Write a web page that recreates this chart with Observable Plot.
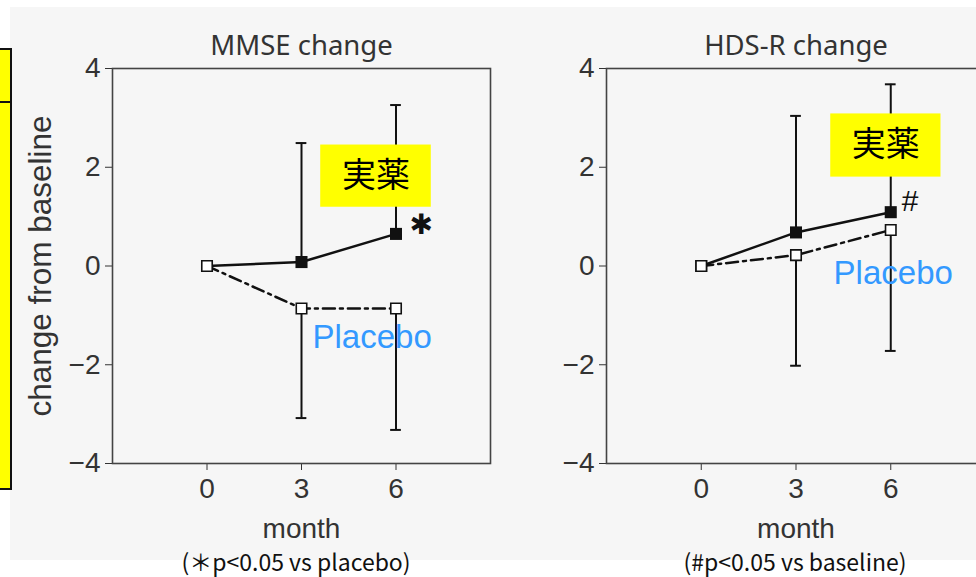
<!DOCTYPE html>
<html>
<head>
<meta charset="utf-8">
<script src="https://cdn.jsdelivr.net/npm/d3@7"></script>
<script src="https://cdn.jsdelivr.net/npm/@observablehq/plot@0.6"></script>
<style>
  html, body { margin: 0; padding: 0; background: #fff; overflow: hidden; }
  #root { position: relative; width: 976px; height: 577px; overflow: hidden; background: #fff; }
  .abs { position: absolute; }
  .abs svg { max-width: none !important; display: block; }
  .foot { position: absolute; top: 550px; font-family: "Noto Sans CJK JP", sans-serif; font-size: 23px; line-height: 23px; color: #111; white-space: nowrap; transform: translateX(-50%); }
</style>
</head>
<body>
<div id="root">
  <div class="abs" style="left:10px;top:7px;width:966px;height:553px;background:#f6f6f6;"></div>
  <div class="abs" style="left:-4px;top:48px;width:12px;height:438px;background:#ffff00;border:2px solid #111;"></div>
  <div class="abs" style="left:-4px;top:101px;width:14px;height:0;border-top:2px solid #111;"></div>
  <div id="left" class="abs" style="left:0;top:0;width:540px;"></div>
  <div id="right" class="abs" style="left:540px;top:0;width:445px;"></div>
  <div class="foot" style="left:296px;">(＊p&lt;0.05 vs placebo)</div>
  <div class="foot" style="left:795px;">(#p&lt;0.05 vs baseline)</div>
</div>
<script>
// ---- data ----
const months = [0, 3, 6];
const xTicks = [0, 3, 6];
const yTicks = [-4, -2, 0, 2, 4];

const mmseDrug      = [0, 0.08, 0.65];
const mmseDrugSD    = [0, 2.41, 2.61];
const mmsePlacebo   = [0, -0.86, -0.86];
const mmsePlaceboSD = [0, 2.22, 2.46];

const hdsDrug       = [0, 0.68, 1.09];
const hdsDrugSD     = [0, 2.36, 2.59];
const hdsPlacebo    = [0, 0.22, 0.73];
const hdsPlaceboSD  = [0, 2.24, 2.45];

const drugLabel = "実薬";
const placeboLabel = "Placebo";

function panel(o) {
  const rows = months.map((m, i) => ({
    month: m,
    drug: o.drug[i], drugHi: o.drug[i] + o.drugSD[i],
    placebo: o.placebo[i], placeboLo: o.placebo[i] - o.placeboSD[i],
    hasBar: o.drugSD[i] > 0
  }));
  const bars = rows.filter(d => d.hasBar);
  const ink = "#111";
  const marks = [
    Plot.frame({stroke: "#444", strokeWidth: 1.6}),
    Plot.text([o.title], {frameAnchor: "top", x: () => 3, dy: -14, lineAnchor: "bottom",
      fontFamily: "Noto Sans", fontSize: 27.5, fill: "#333"}),
    Plot.text(["month"], {frameAnchor: "bottom", x: () => 3, dy: 74, lineAnchor: "bottom",
      fontFamily: "Liberation Sans", fontSize: 28, fill: "#333"}),
    // error bars
    Plot.ruleX(bars, {x: "month", y1: "drug", y2: "drugHi", stroke: ink, strokeWidth: 2}),
    Plot.ruleY(bars, {y: "drugHi", x1: d => d.month - 0.17, x2: d => d.month + 0.17, stroke: ink, strokeWidth: 2}),
    Plot.ruleX(bars, {x: "month", y1: "placebo", y2: "placeboLo", stroke: ink, strokeWidth: 2}),
    Plot.ruleY(bars, {y: "placeboLo", x1: d => d.month - 0.17, x2: d => d.month + 0.17, stroke: ink, strokeWidth: 2}),
    // lines
    Plot.line(rows, {x: "month", y: "drug", stroke: ink, strokeWidth: 2.5}),
    Plot.line(rows, {x: "month", y: "placebo", stroke: ink, strokeWidth: 2.5, strokeDasharray: "12,5,3,5"}),
    // annotations
    Plot.rect([o.box], {x1: "x1", x2: "x2", y1: "y1", y2: "y2", fill: "#ffff00"}),
    Plot.text([o.box], {x: d => (d.x1 + d.x2) / 2, y: d => (d.y1 + d.y2) / 2, text: () => drugLabel,
      fontFamily: "Noto Sans CJK JP", fontSize: 34, fill: "#000"}),
    Plot.text([o.plac], {x: "x", y: "y", text: () => placeboLabel, textAnchor: "start", lineAnchor: "bottom",
      fontFamily: "Liberation Sans", fontSize: 33, fill: "#3399ff"}),
    // squares
    Plot.dot(rows, {x: "month", y: "drug", symbol: "square", r: 6.8, fill: ink, stroke: "none"}),
    Plot.dot(rows, {x: "month", y: "placebo", symbol: "square", r: 5.9, fill: "#fff", stroke: ink, strokeWidth: 1.6}),
    Plot.text([o.sig], {x: "x", y: "y", text: "t", fontFamily: o.sigFont, fontSize: o.sigSize, fill: ink, fontStyle: o.sigStyle})
  ];
  if (o.yLabel) {
    marks.push(Plot.text([o.yLabel], {frameAnchor: "left", y: () => 0, dx: -72, rotate: -90,
      textAnchor: "middle", lineAnchor: "middle",
      fontFamily: "Liberation Sans", fontSize: 31.5, fill: "#333"}));
  }
  return Plot.plot({
    width: o.width, height: 577,
    marginLeft: o.marginLeft, marginRight: o.marginRight, marginTop: 68, marginBottom: 114,
    style: {fontFamily: "Liberation Sans", fontSize: "28px", color: "#333", background: "transparent", overflow: "visible"},
    x: {domain: [-3, 9], ticks: xTicks, tickSize: 7, tickPadding: 8, label: null},
    y: {domain: [-4, 4], ticks: yTicks, tickSize: 7, tickPadding: 5, label: null},
    marks
  });
}

document.getElementById("left").append(panel({
  title: "MMSE change", drug: mmseDrug, drugSD: mmseDrugSD, placebo: mmsePlacebo, placeboSD: mmsePlaceboSD,
  width: 540, marginLeft: 112, marginRight: 50, yLabel: "change from baseline",
  box: {x1: 3.61, x2: 7.12, y1: 1.19, y2: 2.45},
  plac: {x: 3.35, y: -1.66},
  sig: {x: 6.8, y: 0.83, t: "✱"}, sigFont: "DejaVu Sans", sigSize: 28, sigStyle: "normal"
}));

document.getElementById("right").append(panel({
  title: "HDS-R change", drug: hdsDrug, drugSD: hdsDrugSD, placebo: hdsPlacebo, placeboSD: hdsPlaceboSD,
  width: 445, marginLeft: 66, marginRight: 0, yLabel: null,
  box: {x1: 4.1, x2: 7.59, y1: 1.8, y2: 3.08},
  plac: {x: 4.19, y: -0.36},
  sig: {x: 6.6, y: 1.3, t: "#"}, sigFont: "Liberation Sans", sigSize: 30, sigStyle: "italic"
}));
</script>
</body>
</html>
